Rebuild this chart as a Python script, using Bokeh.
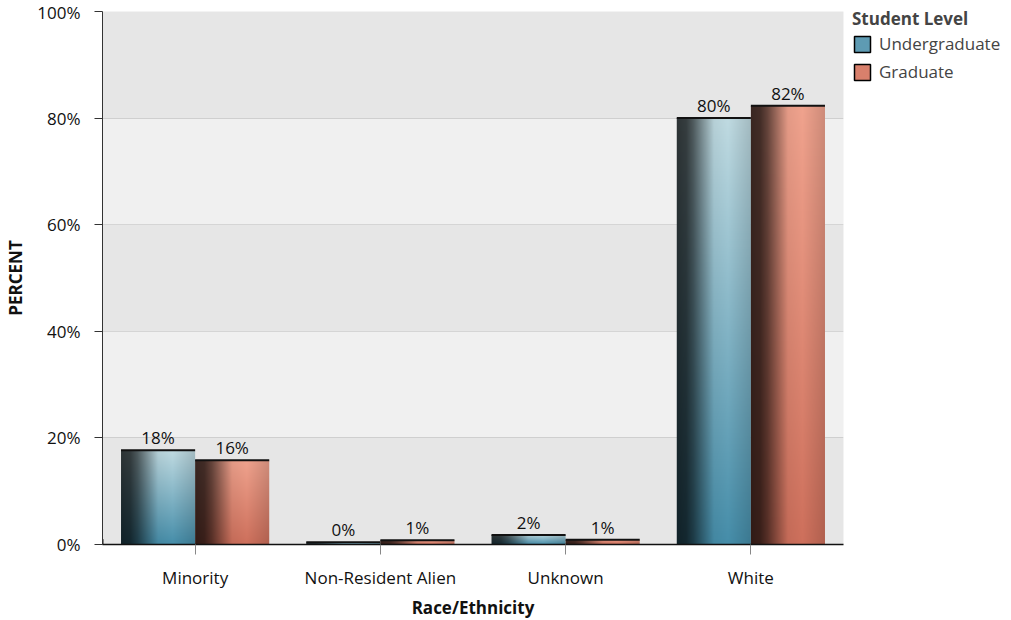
import numpy as np
from bokeh.plotting import figure
from bokeh.models import (ColumnDataSource, Legend, LegendItem, BoxAnnotation,
                          FixedTicker, Range1d)
from bokeh.core.properties import value
from bokeh.embed import file_html
from bokeh.resources import INLINE

# ---- data ----
categories = ["Minority", "Non-Resident Alien", "Unknown", "White"]
undergrad = [17.7, 0.4, 1.8, 80.0]
graduate = [15.8, 0.8, 0.9, 82.3]
y_ticks = [0, 20, 40, 60, 80, 100]
series_names = ["Undergraduate", "Graduate"]

FONT = "Open Sans"
FS = "17px"
FRAME_W, FRAME_H = 741, 533

def gradient(top, bottom, n_cols=74, n_rows=160):
    t = np.linspace(0, 1, n_cols)
    h = np.interp(t, [0, 0.12, 0.22, 0.5, 0.7, 1.0],
                  [0.24, 0.28, 0.42, 0.95, 1.0, 0.86])
    f = np.linspace(0, 1, n_rows)[:, None]
    top = np.array(top, float)
    bottom = np.array(bottom, float)
    base = bottom[None, :] + (top - bottom)[None, :] * f
    rgb = base[:, None, :] * h[None, :, None]
    rgb = np.clip(rgb, 0, 255).astype(np.uint8)
    img = np.empty((n_rows, n_cols), dtype=np.uint32)
    view = img.view(dtype=np.uint8).reshape((n_rows, n_cols, 4))
    view[..., 0] = rgb[..., 0]
    view[..., 1] = rgb[..., 1]
    view[..., 2] = rgb[..., 2]
    view[..., 3] = 255
    return img

blue_img = gradient((192, 219, 226), (70, 142, 170))
red_img = gradient((240, 163, 142), (206, 112, 92))

n = len(categories)
centers = [i + 0.5 for i in range(n)]
bar_w = 0.4

p = figure(frame_width=FRAME_W, frame_height=FRAME_H, output_backend="svg",
           toolbar_location=None,
           x_range=Range1d(0, n), y_range=Range1d(0, 100),
           min_border_left=102, min_border_right=10, min_border_top=11,
           min_border_bottom=70)
p.background_fill_color = "#f0f0f0"
p.border_fill_color = "white"
p.outline_line_color = None

# alternating bands
for lo in (0, 40, 80):
    p.add_layout(BoxAnnotation(bottom=lo, top=lo + 20, fill_color="#e6e6e6",
                               fill_alpha=1, line_color=None, level="underlay"))

p.xgrid.grid_line_color = None
p.ygrid.ticker = FixedTicker(ticks=[20, 40, 60, 80])
p.ygrid.grid_line_color = "#cfcfcf"
p.ygrid.grid_line_width = 1

for vals, img, dx in ((undergrad, blue_img, -bar_w), (graduate, red_img, 0.0)):
    src = ColumnDataSource(dict(
        image=[img] * n,
        x=[c + dx for c in centers],
        y=[0] * n,
        dw=[bar_w] * n,
        dh=vals,
    ))
    p.image_rgba(image="image", x="x", y="y", dw="dw", dh="dh", source=src)
    tops = ColumnDataSource(dict(
        x0=[c + dx for c in centers], x1=[c + dx + bar_w for c in centers],
        y=vals, xc=[c + dx + bar_w / 2 for c in centers],
        label=[f"{round(v)}%" for v in vals],
    ))
    p.segment(x0="x0", y0="y", x1="x1", y1="y", source=tops,
              line_color="#111111", line_width=2)
    p.text(x="xc", y="y", text="label", source=tops, text_align="center",
           text_baseline="bottom", y_offset=-1, text_font=value(FONT),
           text_font_size=FS, text_color="#111111")

# legend proxies (placed outside the visible range)
r_u = p.vbar(x=[-10], top=[1], width=0.4, fill_color="#5e9bb3",
             line_color="black", line_width=1.5)
r_g = p.vbar(x=[-10], top=[1], width=0.4, fill_color="#d9806c",
             line_color="black", line_width=1.5)
legend = Legend(items=[LegendItem(label=series_names[0], renderers=[r_u]),
                       LegendItem(label=series_names[1], renderers=[r_g])],
                title="Student Level", location=(9, FRAME_H - 72))
legend.title_text_font = FONT
legend.title_text_font_style = "bold"
legend.title_text_font_size = FS
legend.title_standoff = 2
legend.label_text_font = FONT
legend.label_text_font_size = FS
legend.glyph_width = 20
legend.glyph_height = 20
legend.spacing = 5
legend.padding = 0
legend.margin = 0
legend.label_standoff = 7
legend.border_line_color = None
legend.background_fill_alpha = 0
p.add_layout(legend, "right")

# axes
p.xaxis.ticker = FixedTicker(ticks=centers)
p.xaxis.major_label_overrides = {c: cat for c, cat in zip(centers, categories)}
p.xaxis.axis_label = "Race/Ethnicity"
p.xaxis.axis_line_color = "#111111"
p.xaxis.axis_line_width = 1.5
p.xaxis.major_tick_line_color = "#888888"
p.xaxis.major_tick_out = 10
p.xaxis.major_tick_in = 0
p.xaxis.minor_tick_line_color = None
p.xaxis.major_label_standoff = 11
p.xaxis.axis_label_standoff = 4

p.yaxis.ticker = FixedTicker(ticks=y_ticks)
p.yaxis.major_label_overrides = {t: f"{t}%" for t in y_ticks}
p.yaxis.axis_label = "PERCENT"
p.yaxis.axis_line_color = "#333333"
p.yaxis.major_tick_line_color = "#333333"
p.yaxis.major_tick_out = 8
p.yaxis.major_tick_in = 0
p.yaxis.minor_tick_line_color = None
p.yaxis.major_label_standoff = 14
p.yaxis.axis_label_standoff = 7

for ax in (p.xaxis, p.yaxis):
    ax.major_label_text_font = FONT
    ax.major_label_text_font_size = FS
    ax.major_label_text_color = "#111111"
    ax.axis_label_text_font = FONT
    ax.axis_label_text_font_size = FS
    ax.axis_label_text_font_style = "bold"
    ax.axis_label_text_color = "#111111"

open("out.html", "w").write(file_html(p, INLINE))
